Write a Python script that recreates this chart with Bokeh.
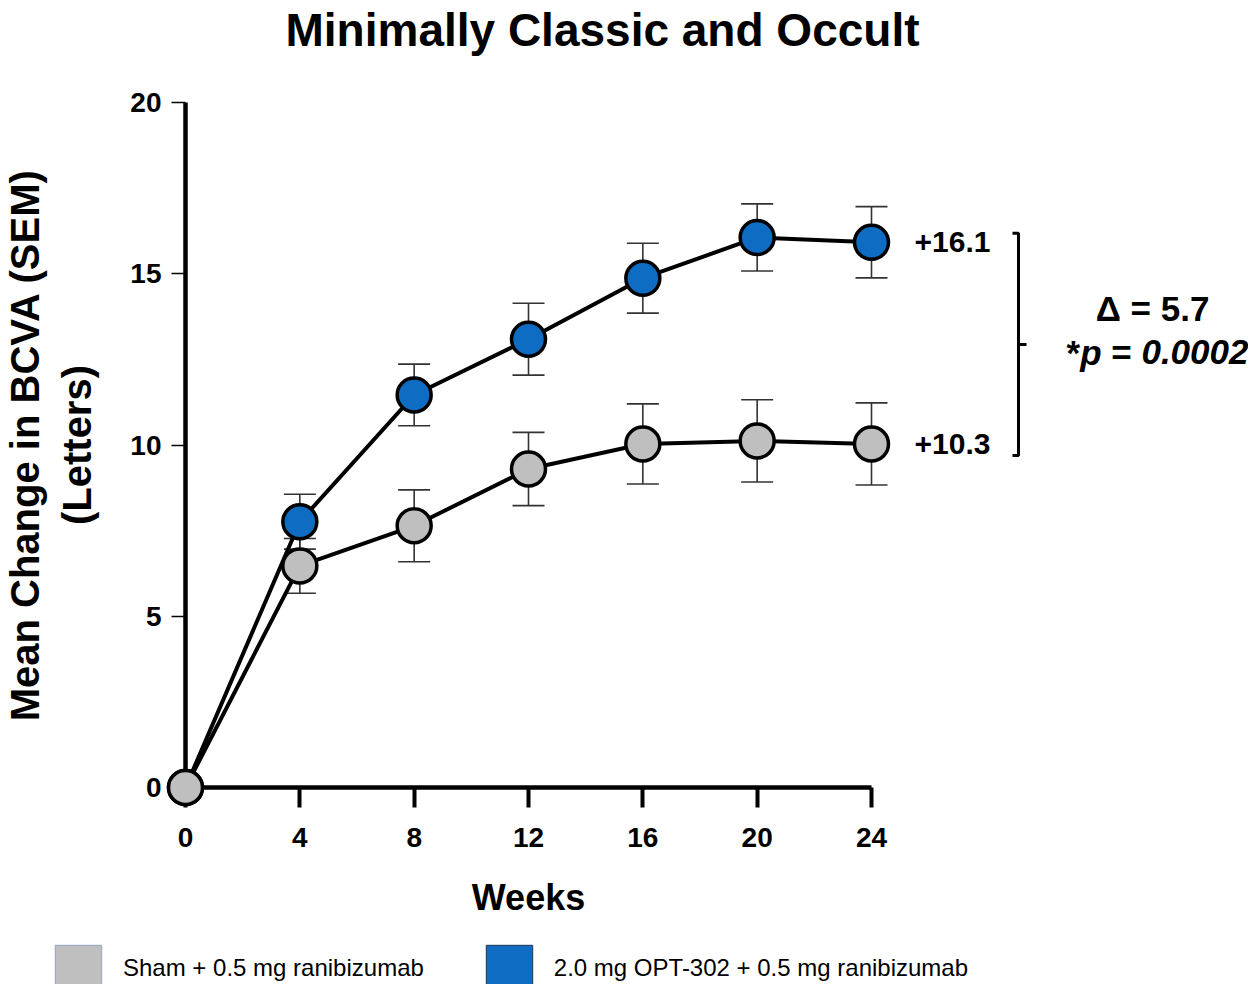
from bokeh.plotting import figure
from bokeh.models import (ColumnDataSource, Whisker, TeeHead, Label, Legend,
                          LegendItem, FixedTicker, Range1d)
from bokeh.embed import file_html
from bokeh.resources import INLINE

# ---------------- data ----------------
weeks = [0, 4, 8, 12, 16, 20, 24]
sham_mean = [0, 6.47, 7.64, 9.30, 10.03, 10.12, 10.03]
sham_sem = [0, 0.80, 1.05, 1.07, 1.17, 1.20, 1.20]
opt_mean = [0, 7.76, 11.46, 13.09, 14.87, 16.06, 15.92]
opt_sem = [0, 0.80, 0.90, 1.05, 1.02, 0.98, 1.04]
x_ticks = [0, 4, 8, 12, 16, 20, 24]
y_ticks = [0, 5, 10, 15, 20]
sham_label = "Sham + 0.5 mg ranibizumab"
opt_label = "2.0 mg OPT-302 + 0.5 mg ranibizumab"
opt_end_label = "+16.1"
sham_end_label = "+10.3"
delta_text = "\u0394 = 5.7"
p_parts = [("*", "bold"), ("p", "bold italic"), ("=", "bold"), ("0.0002", "bold italic")]
title_text = "Minimally Classic and Occult"
x_title = "Weeks"
y_title = "Mean Change in BCVA (SEM)\n(Letters)"

# ---------------- styling / layout ----------------
BLUE = "#0f6cc3"
GRAY = "#bfbfbf"
FONT = "Liberation Sans"
W, H = 1248, 984
X0_PX, X24_PX = 185, 871      # canvas px of week 0 and week 24
Y0_PX, Y20_PX = 787, 102      # canvas px of value 0 and value 20
kx = (X24_PX - X0_PX) / 24.0
ky = (Y0_PX - Y20_PX) / 20.0


def dx(px):
    return (px - X0_PX) / kx


def dy(py):
    return (Y0_PX - py) / ky


p = figure(width=W, height=H,
           x_range=Range1d(dx(0), dx(W)), y_range=Range1d(dy(H), dy(0)),
           output_backend="svg", toolbar_location=None, min_border=0,
           outline_line_color=None)
p.grid.visible = False

# axes
p.xaxis.fixed_location = 0
p.yaxis.fixed_location = 0
p.xaxis.bounds = (0, 24)
p.yaxis.bounds = (0, 20)
p.xaxis.ticker = FixedTicker(ticks=x_ticks)
p.yaxis.ticker = FixedTicker(ticks=y_ticks)
for ax in (p.xaxis, p.yaxis):
    ax.level = "underlay"
    ax.axis_line_width = 4.5
    ax.axis_line_color = "black"
    ax.major_tick_in = 0
    ax.minor_tick_line_color = None
    ax.major_label_text_font = FONT
    ax.major_label_text_font_style = "bold"
    ax.major_label_text_font_size = "28px"
    ax.major_label_text_color = "black"
    ax.axis_label_text_font = FONT
    ax.axis_label_text_font_style = "bold"
    ax.axis_label_text_color = "black"
p.xaxis.major_tick_line_width = 4
p.xaxis.major_tick_out = 20
p.xaxis.major_label_standoff = 20
p.xaxis.axis_label = x_title
p.xaxis.axis_label_text_font_size = "36px"
p.xaxis.axis_label_standoff = 27
p.yaxis.major_tick_line_width = 1.5
p.yaxis.major_tick_out = 14
p.yaxis.major_label_standoff = 10
p.yaxis.axis_label = y_title
p.yaxis.axis_label_text_font_size = "40px"
p.yaxis.axis_label_standoff = 28

# error bars
for mean, sem in ((opt_mean, opt_sem), (sham_mean, sham_sem)):
    xs = [w for w, s in zip(weeks, sem) if s > 0]
    up = [m + s for m, s in zip(mean, sem) if s > 0]
    lo = [m - s for m, s in zip(mean, sem) if s > 0]
    src = ColumnDataSource(dict(x=xs, upper=up, lower=lo))
    wh = Whisker(source=src, base="x", upper="upper", lower="lower",
                 dimension="height", line_width=1.6, line_color="#333333",
                 upper_head=TeeHead(size=32, line_width=1.6, line_color="#333333"),
                 lower_head=TeeHead(size=32, line_width=1.6, line_color="#333333"))
    p.add_layout(wh)

# lines and markers
p.line(weeks, opt_mean, line_width=4, line_color="black")
p.line(weeks, sham_mean, line_width=4, line_color="black")
p.scatter(weeks, opt_mean, size=34, fill_color=BLUE, line_color="black", line_width=3.5)
p.scatter(weeks, sham_mean, size=34, fill_color=GRAY, line_color="black", line_width=3.5)

# end labels
for yv, txt in ((opt_mean[-1], opt_end_label), (sham_mean[-1], sham_end_label)):
    p.add_layout(Label(x=weeks[-1], y=yv, x_offset=43, text=txt, text_font=FONT,
                       text_font_style="bold", text_font_size="30px",
                       text_align="left", text_baseline="middle", text_color="black"))

# bracket
bx = weeks[-1] + 147 / kx
top = opt_mean[-1] + 0.26
bot = sham_mean[-1] - 0.34
mid = (top + bot) / 2
p.multi_line(xs=[[bx - 6 / kx, bx, bx, bx - 6 / kx], [bx, bx + 8 / kx]],
             ys=[[top, top, bot, bot], [mid, mid]],
             line_color="black", line_width=3)

p.add_layout(Label(x=bx, y=mid, x_offset=134, y_offset=36, text=delta_text,
                   text_font=FONT, text_font_style="bold", text_font_size="35px",
                   text_align="center", text_baseline="middle", text_color="black"))

# *p = 0.0002 in parts (approximate glyph advance widths, em units)
EM = {"*": 0.389, "p": 0.611, "=": 0.584}
SPACE = 0.278
fs = 35
gaps = [0, 0, SPACE, SPACE]
advs = []
pos = 0.0
for (t, _), g in zip(p_parts, gaps):
    pos += g * fs
    advs.append(pos)
    pos += sum(EM.get(c, 0.278 if c == "." else 0.556) for c in t) * fs
start = 139 - pos / 2.0
for (t, style), a in zip(p_parts, advs):
    p.add_layout(Label(x=bx, y=mid, x_offset=start + a, y_offset=-8, text=t,
                       text_font=FONT, text_font_style=style, text_font_size=f"{fs}px",
                       text_align="left", text_baseline="middle", text_color="black"))

# title
p.add_layout(Label(x=dx(602), y=dy(29), text=title_text, text_font=FONT,
                   text_font_style="bold", text_font_size="46px",
                   text_align="center", text_baseline="middle", text_color="black"))

# legend (square swatches)
nan = float("nan")
q1 = p.quad(left=[nan], right=[nan], top=[nan], bottom=[nan],
            fill_color=GRAY, line_color="#8ea6c0", line_width=1)
q2 = p.quad(left=[nan], right=[nan], top=[nan], bottom=[nan],
            fill_color=BLUE, line_color="#1f3550", line_width=1)
legend = Legend(items=[LegendItem(label=sham_label, renderers=[q1]),
                       LegendItem(label=opt_label, renderers=[q2])],
                orientation="horizontal", location=(49, H - 997),
                glyph_width=58, glyph_height=58, label_standoff=16, spacing=56,
                padding=0, margin=0, border_line_color=None, background_fill_alpha=0,
                label_text_font=FONT, label_text_font_size="24px", label_text_color="black")
p.add_layout(legend)

open("out.html", "w").write(file_html(p, INLINE))
